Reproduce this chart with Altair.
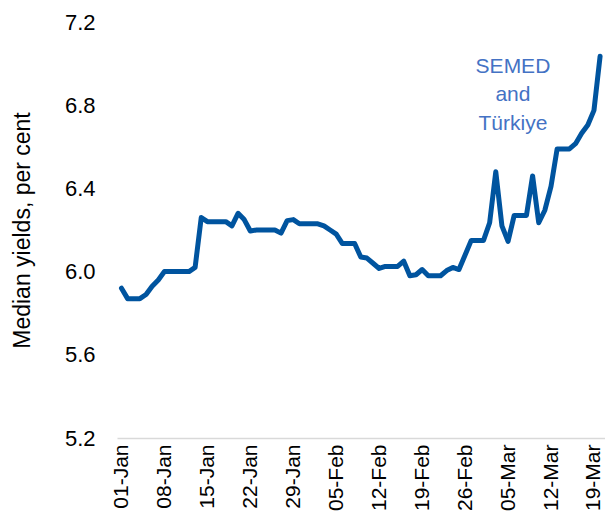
import altair as alt
import pandas as pd

# Tick labels shown on the x axis (one every 7 days, starting 01-Jan)
tick_labels = ["01-Jan", "08-Jan", "15-Jan", "22-Jan", "29-Jan", "05-Feb",
               "12-Feb", "19-Feb", "26-Feb", "05-Mar", "12-Mar", "19-Mar"]

# Daily median yields (per cent), 01-Jan to 20-Mar
values = [5.92, 5.87, 5.87, 5.87, 5.89, 5.93, 5.96, 6.00, 6.00, 6.00,
          6.00, 6.00, 6.02, 6.26, 6.24, 6.24, 6.24, 6.24, 6.22, 6.28,
          6.25, 6.195, 6.20, 6.20, 6.20, 6.20, 6.185, 6.245, 6.25, 6.23,
          6.23, 6.23, 6.23, 6.22, 6.20, 6.18, 6.135, 6.135, 6.135, 6.07,
          6.065, 6.04, 6.015, 6.025, 6.025, 6.025, 6.05, 5.98, 5.985, 6.01,
          5.98, 5.98, 5.98, 6.005, 6.02, 6.01, 6.08, 6.15, 6.15, 6.15,
          6.235, 6.48, 6.22, 6.145, 6.27, 6.27, 6.27, 6.46, 6.235, 6.295,
          6.41, 6.59, 6.59, 6.59, 6.615, 6.665, 6.705, 6.775, 7.035]

y_ticks = [5.2, 5.6, 6.0, 6.4, 6.8, 7.2]

note_lines = ["SEMED", "and", "Türkiye"]
note_x = [63.8]
note_y = [6.955]

days = list(range(len(values)))
df = pd.DataFrame({"day": days, "value": values})
note_df = pd.DataFrame({"day": note_x, "value": note_y, "text": ["\n".join(note_lines)]})

FONT = "Liberation Sans"

x_scale = alt.Scale(domain=[-0.73, 78.8], nice=False, zero=False)
y_scale = alt.Scale(domain=[5.2, 7.2], nice=False, zero=False)

label_expr = "[" + ",".join(f"'{t}'" for t in tick_labels) + "][round(datum.value / 7)]"

x_axis = alt.Axis(values=[7 * i for i in range(len(tick_labels))],
                  labelExpr=label_expr, labelAngle=270,
                  labelFontSize=21, labelFont=FONT, labelColor="#000000",
                  labelPadding=6, ticks=False, tickSize=0, grid=False,
                  domainColor="#d9d9d9", domainWidth=1.5, title=None,
                  labelOverlap=False, labelFlush=False)
y_axis = alt.Axis(values=y_ticks, format=".1f", labelFontSize=22,
                  labelFont=FONT, labelColor="#000000", labelPadding=22,
                  ticks=False, tickSize=0, domain=False, grid=False,
                  title="Median yields, per cent", titleFontSize=23,
                  titleFont=FONT, titleFontWeight="normal",
                  titleColor="#000000", titleX=-95, titleY=208,
                  titleAngle=270, titleAlign="center",
                  titleBaseline="middle")

line = alt.Chart(df).mark_line(
    color="#00549F", strokeWidth=5, strokeCap="round", strokeJoin="round"
).encode(
    x=alt.X("day:Q", scale=x_scale, axis=x_axis),
    y=alt.Y("value:Q", scale=y_scale, axis=y_axis),
)

note = alt.Chart(note_df).mark_text(
    lineBreak="\n", align="center", baseline="alphabetic", fontSize=21,
    font=FONT, color="#4472C4", lineHeight=28.5
).encode(
    x=alt.X("day:Q", scale=x_scale, axis=x_axis),
    y=alt.Y("value:Q", scale=y_scale, axis=y_axis),
    text="text:N",
)

chart = alt.layer(line, note).properties(
    width=488, height=416,
    autosize=alt.AutoSizeParams(type="none"),
    padding={"left": 109, "top": 14, "right": 0, "bottom": 77},
).configure_view(stroke=None)

chart.save("out.html", embed_options={"renderer": "svg", "actions": False})
